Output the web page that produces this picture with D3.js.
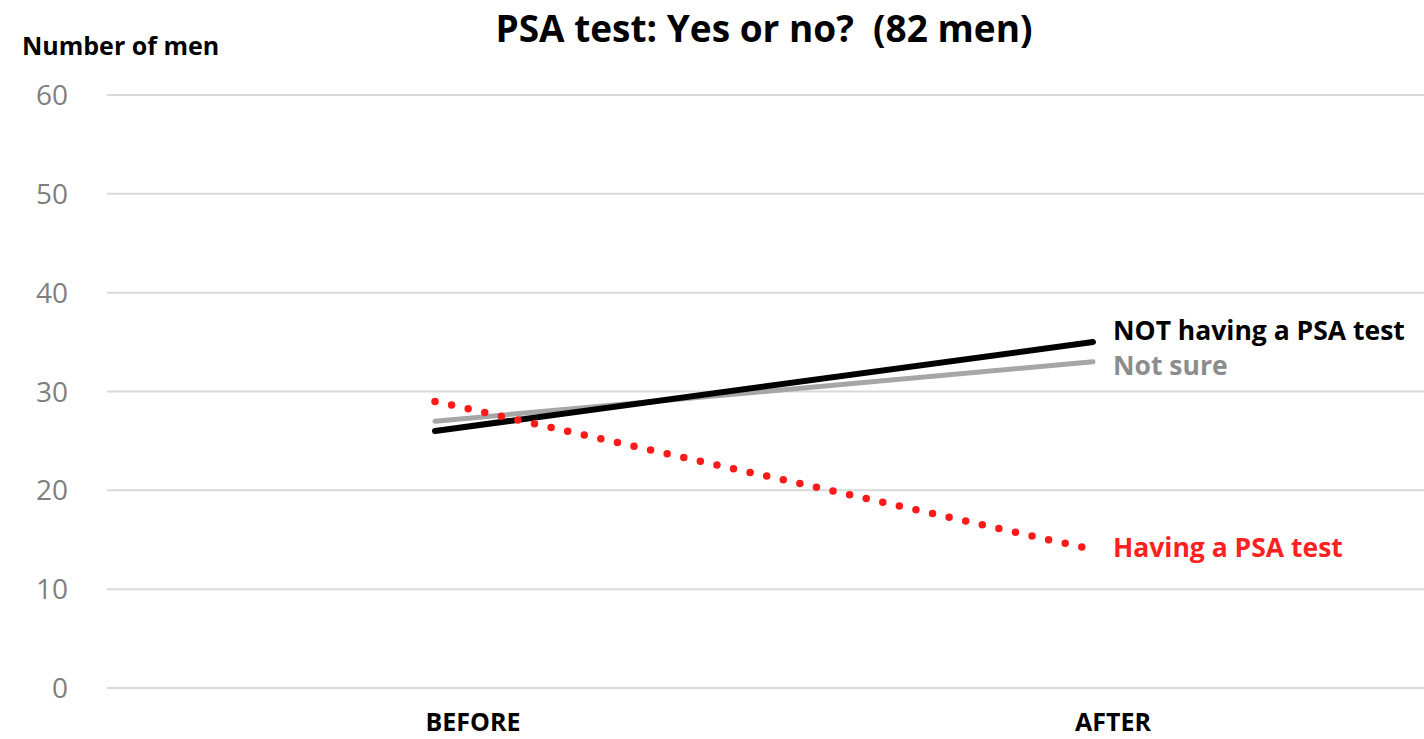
<!DOCTYPE html>
<html>
<head>
<meta charset="utf-8">
<script src="https://cdn.jsdelivr.net/npm/d3@7"></script>
<style>
  body { margin: 0; background: #fff; }
  svg { display: block; font-family: "Open Sans", Lato, sans-serif; }
</style>
</head>
<body>
<div id="chart"></div>
<script>
// Data
const periods = ["BEFORE", "AFTER"];
const notHaving = [26, 35];
const notSure = [27, 33];
const having = [29, 14];
const yTicks = [0, 10, 20, 30, 40, 50, 60];

const width = 1424;
const height = 739;

const svg = d3.select("#chart")
  .append("svg")
  .attr("width", width)
  .attr("height", height);

const x = d3.scalePoint().domain(periods).range([435, 1093]);
const y = d3.scaleLinear().domain([0, 60]).range([688, 95]);

// gridlines
svg.append("g")
  .selectAll("line")
  .data(yTicks)
  .enter()
  .append("line")
  .attr("x1", 107)
  .attr("x2", width)
  .attr("y1", d => y(d))
  .attr("y2", d => y(d))
  .attr("stroke", "#d9d9d9")
  .attr("stroke-width", 2);

// y tick labels
svg.append("g")
  .selectAll("text")
  .data(yTicks)
  .enter()
  .append("text")
  .attr("x", 68)
  .attr("y", d => y(d))
  .attr("dy", "0.36em")
  .attr("text-anchor", "end")
  .attr("fill", "#7f7f7f")
  .style("font-size", "28px")
  .text(d => d);

// x labels (sit a little right of the data points, as in the original)
const labelShift = { BEFORE: 38, AFTER: 20 };
svg.append("g")
  .selectAll("text")
  .data(periods)
  .enter()
  .append("text")
  .attr("x", d => x(d) + labelShift[d])
  .attr("y", 731)
  .attr("text-anchor", "middle")
  .attr("fill", "#000")
  .style("font-size", "25px")
  .style("font-weight", "bold")
  .text(d => d);

// titles
svg.append("text")
  .attr("x", 764)
  .attr("y", 42)
  .attr("text-anchor", "middle")
  .style("font-size", "37px")
  .style("font-weight", "bold")
  .style("white-space", "pre")
  .text("PSA test: Yes or no?\u00a0 (82 men)");

svg.append("text")
  .attr("x", 22)
  .attr("y", 55)
  .style("font-size", "25px")
  .style("font-weight", "bold")
  .text("Number of men");

const line = d3.line()
  .x((d, i) => x(periods[i]))
  .y(d => y(d));

// series
svg.append("path")
  .datum(notSure)
  .attr("fill", "none")
  .attr("stroke", "#a6a6a6")
  .attr("stroke-width", 5)
  .attr("stroke-linecap", "round")
  .attr("d", line);

svg.append("path")
  .datum(notHaving)
  .attr("fill", "none")
  .attr("stroke", "#000")
  .attr("stroke-width", 6)
  .attr("stroke-linecap", "round")
  .attr("d", line);

svg.append("path")
  .datum(having)
  .attr("fill", "none")
  .attr("stroke", "#ff1a1a")
  .attr("stroke-width", 7.5)
  .attr("stroke-linecap", "round")
  .attr("stroke-dasharray", "0 17")
  .attr("d", line);

// series labels
const labels = [
  { text: "NOT having a PSA test", value: notHaving[1], color: "#000", dy: -12 },
  { text: "Not sure", value: notSure[1], color: "#8c8c8c", dy: 4 },
  { text: "Having a PSA test", value: having[1], color: "#ff2020", dy: -2 }
];

svg.append("g")
  .selectAll("text")
  .data(labels)
  .enter()
  .append("text")
  .attr("x", 1113)
  .attr("y", d => y(d.value) + d.dy)
  .attr("dy", "0.36em")
  .attr("fill", d => d.color)
  .style("font-size", "26.5px")
  .style("font-weight", "bold")
  .text(d => d.text);
</script>
</body>
</html>
